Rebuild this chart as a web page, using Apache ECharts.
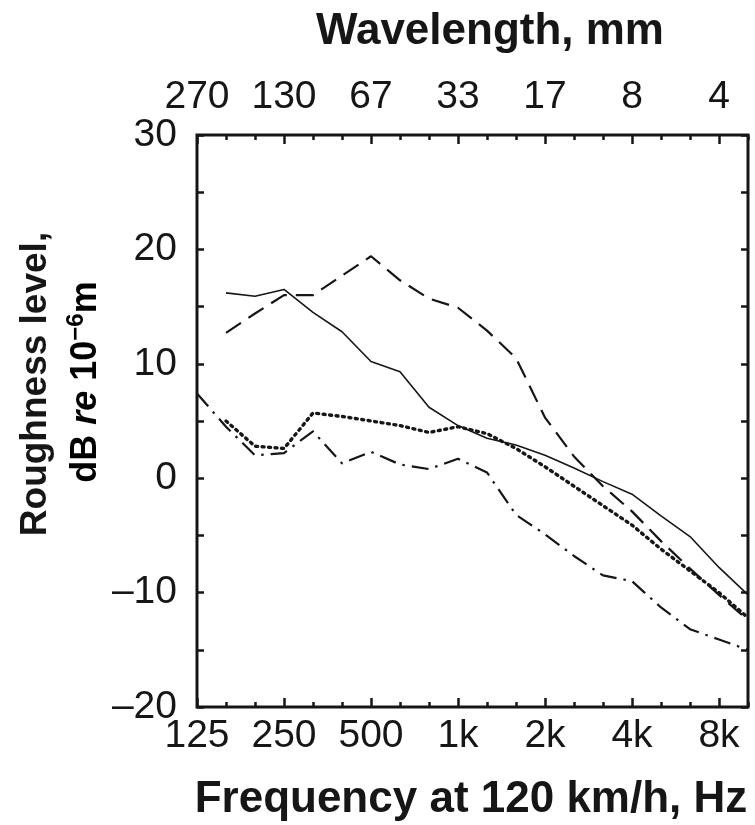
<!DOCTYPE html>
<html>
<head>
<meta charset="utf-8">
<script src="https://cdn.jsdelivr.net/npm/echarts@6/dist/echarts.min.js"></script>
<style>
html,body{margin:0;padding:0;background:#fff;}
#chart{width:755px;height:825px;}
</style>
</head>
<body>
<div id="chart"></div>
<script>
// One-third-octave band centre frequencies (Hz) at 120 km/h
const bands = ['125','160','200','250','315','400','500','630','800','1000','1250','1600','2000','2500','3150','4000','5000','6300','8000','10000'];
// Octave tick labels (every third band)
const freqTickLabels = ['125','250','500','1k','2k','4k','8k'];
const wavelengthTickLabels = ['270','130','67','33','17','8','4'];
const yTickValues = [-20, -10, 0, 10, 20, 30];

// Roughness level, dB re 10^-6 m
const solidLevels   = [null, 16.2, 15.9, 16.5, 14.5, 12.8, 10.2, 9.3, 6.2, 4.6, 3.5, 2.9, 2.0, 0.9, -0.3, -1.4, -3.3, -5.1, -7.8, -10.2];
const dashedLevels  = [null, 12.7, 14.4, 16.0, 16.0, 17.7, 19.4, 17.3, 15.7, 14.9, 12.9, 10.5, 5.3, 1.9, -0.7, -2.9, -5.5, -7.9, -10.2, -12.4];
const dottedLevels  = [null, 5.0, 2.8, 2.6, 5.7, 5.4, 5.0, 4.6, 4.0, 4.5, 3.9, 2.6, 1.0, -0.7, -2.4, -4.1, -6.2, -8.1, -10.0, -12.2];
const dashDotLevels = [7.4, 4.5, 2.0, 2.2, 4.1, 1.3, 2.3, 1.2, 0.8, 1.7, 0.5, -3.2, -4.9, -6.8, -8.5, -9.0, -11.3, -13.2, -14.1, -15.0];

const FONT = '"Liberation Sans", Arial, sans-serif';
const TICKFONT = '"Liberation Sans Narrow", "Arial Narrow", "Liberation Sans", sans-serif';
const INK = '#161616';

const isOctave = (i) => i % 3 === 0 && i < 19;

function catAxis(position, labels, tickLen, tickFilter, showLabel) {
  return {
    type: 'category',
    position: position,
    data: bands,
    boundaryGap: false,
    axisLine: { show: false, onZero: false },
    axisTick: { show: true, inside: true, length: tickLen, interval: tickFilter,
                lineStyle: { color: INK, width: 2.5 } },
    axisLabel: {
      show: showLabel,
      interval: (i) => isOctave(i),
      formatter: (v, i) => labels ? labels[i / 3] : '',
      fontFamily: TICKFONT, fontSize: 39, color: INK,
      margin: position === 'top' ? 18 : 10
    },
    splitLine: { show: false }
  };
}

function valAxis(position, showLabel, tickLen) {
  return {
    type: 'value',
    position: position,
    min: -20, max: 30, interval: 5,
    axisLine: { show: false, onZero: false },
    axisTick: { show: true, inside: true, length: tickLen, lineStyle: { color: INK, width: 2.5 } },
    axisLabel: {
      show: showLabel,
      formatter: (v) => yTickValues.indexOf(v) >= 0 ? (v < 0 ? '\u2013' + Math.abs(v) : String(v)) : '',
      fontFamily: TICKFONT, fontSize: 39, color: INK, margin: 20
    },
    splitLine: { show: false }
  };
}

function lineSeries(data, dash, width, cap) {
  return {
    type: 'line',
    xAxisIndex: 0, yAxisIndex: 0,
    data: data,
    symbol: 'none',
    connectNulls: false,
    lineStyle: { color: INK, width: width, type: dash, cap: cap || 'butt', join: 'round' },
    emphasis: { disabled: true },
    silent: true
  };
}

const chart = echarts.init(document.getElementById('chart'), null, { renderer: 'canvas' });
chart.setOption({
  animation: false,
  backgroundColor: '#ffffff',
  grid: { left: 197, right: 7, top: 135, bottom: 118, show: true,
          borderColor: INK, borderWidth: 3, backgroundColor: 'transparent' },
  xAxis: [
    catAxis('bottom', freqTickLabels, 5, () => true, true),
    catAxis('top', wavelengthTickLabels, 5, () => true, true),
    catAxis('bottom', null, 9, (i) => isOctave(i), false),
    catAxis('top', null, 9, (i) => isOctave(i), false)
  ],
  yAxis: [
    valAxis('left', true, 7),
    valAxis('right', false, 7)
  ],
  series: [
    lineSeries(solidLevels, 'solid', 1.6),
    lineSeries(dashedLevels, [18, 9], 2.2),
    lineSeries(dottedLevels, [2, 4.5], 3.4, 'round'),
    lineSeries(dashDotLevels, [17, 7, 2.5, 7], 2.2)
  ],
  graphic: [
    { type: 'text', x: 490, y: 32, silent: true,
      style: { text: 'Wavelength, mm', font: 'bold 44px ' + FONT, fill: INK,
               align: 'center', verticalAlign: 'middle' } },
    { type: 'text', x: 471, y: 800, silent: true,
      style: { text: 'Frequency at 120 km/h, Hz', font: 'bold 44px ' + FONT, fill: INK,
               align: 'center', verticalAlign: 'middle' } },
    { type: 'text', x: 36, y: 384, rotation: Math.PI / 2, silent: true,
      style: { text: 'Roughness level,', font: 'bold 37px ' + FONT, fill: INK,
               align: 'center', verticalAlign: 'middle' } },
    { type: 'text', x: 84, y: 382, rotation: Math.PI / 2, silent: true,
      style: { text: '{b|dB }{i|re}{b| 10}{s|\u22126}{b|m}', align: 'center', verticalAlign: 'middle',
               rich: {
                 b: { fontFamily: FONT, fontWeight: 'bold', fontSize: 36, color: INK, verticalAlign: 'bottom', lineHeight: 40 },
                 i: { fontFamily: FONT, fontWeight: 'bold', fontStyle: 'italic', fontSize: 36, color: INK, verticalAlign: 'bottom', lineHeight: 40 },
                 s: { fontFamily: FONT, fontWeight: 'bold', fontSize: 24, color: INK, verticalAlign: 'top', lineHeight: 40 }
               } } }
  ]
});
</script>
</body>
</html>
